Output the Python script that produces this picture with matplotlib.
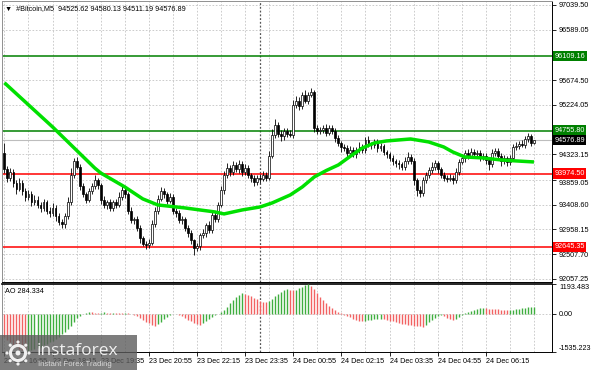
import numpy as np
import matplotlib.pyplot as plt
from matplotlib.patches import Rectangle, Circle
from matplotlib.transforms import blended_transform_factory

plt.rcParams['font.family'] = ['Liberation Sans', 'DejaVu Sans']

# M5 bars from 23 Dec 16:55 to 24 Dec 07:35, open of the first bar, then closes
first_open = 94350
closes = [94050, 93900, 94000, 93800, 93700, 93800, 93650, 93550, 93600, 93450,
          93500, 93400, 93350, 93450, 93300, 93250, 93350, 93200, 93100, 93050,
          93200, 93450, 93950, 94200, 94100, 93750, 93600, 93500, 93650, 93750,
          93850, 93760, 93500, 93400, 93450, 93350, 93450, 93400, 93550, 93680,
          93600, 93300, 93130, 93150, 92990, 92800, 92700, 92680, 92720, 93050,
          93300, 93520, 93650, 93600, 93480, 93550, 93300, 93250, 93130, 93150,
          92990, 92900, 92760, 92620, 92650, 92850, 92900, 93040, 92950, 93220,
          93150, 93400, 93670, 93950, 94070, 94000, 94130, 94050, 94150, 94000,
          94080, 93950, 93890, 93820, 93900, 93870, 93950, 93900, 94300, 94680,
          94850, 94700, 94650, 94750, 94700, 94680, 95220, 95300, 95200, 95400,
          95300, 95400, 95450, 94800, 94750, 94770, 94800, 94720, 94800, 94750,
          94620, 94530, 94450, 94440, 94350, 94400, 94330, 94400, 94460, 94400,
          94580, 94500, 94490, 94550, 94440, 94470, 94360, 94330, 94260, 94200,
          94160, 94150, 94100, 94200, 94270, 94200, 93850, 93680, 93620, 93850,
          93950, 94030, 94100, 94160, 94050, 93950, 93900, 93880, 93900, 93850,
          94000, 94180, 94250, 94350, 94300, 94370, 94330, 94350, 94280, 94300,
          94220, 94150, 94350, 94380, 94300, 94200, 94250, 94180, 94250, 94450,
          94480, 94520, 94500, 94600, 94650, 94525.62, 94576.89]

up_wick = [180, 60, 80, 50, 60, 90, 50, 60, 70, 50,
           80, 60, 50, 70, 40, 60, 80, 50, 60, 40,
           50, 100, 120, 60, 80, 50, 60, 40, 70, 60,
           90, 50, 40, 60, 50, 70, 40, 60, 80, 70,
           50, 40, 60, 40, 50, 40, 30, 50, 60, 80,
           60, 70, 80, 60, 40, 70, 50, 40, 60, 50,
           40, 50, 40, 30, 60, 50, 60, 40, 80, 60,
           50, 60, 80, 70, 90, 60, 80, 60, 70, 60,
           60, 50, 40, 60, 50, 60, 70, 60, 80, 100,
           120, 60, 70, 60, 50, 60, 90, 80, 70, 60,
           100, 60, 80, 50, 60, 50, 60, 80, 60, 50,
           60, 50, 40, 60, 50, 70, 60, 50, 80, 60,
           60, 70, 50, 60, 50, 60, 40, 50, 40, 50,
           40, 60, 40, 70, 90, 60, 50, 40, 60, 70,
           60, 70, 80, 60, 50, 40, 50, 40, 60, 50,
           70, 60, 80, 60, 70, 60, 50, 60, 50, 40,
           50, 60, 70, 60, 50, 40, 60, 50, 60, 70,
           60, 50, 60, 50, 60, 40, 3.24]

down_wick = [60, 80, 60, 70, 90, 50, 60, 80, 50, 70,
             50, 60, 80, 50, 70, 60, 50, 80, 60, 70,
             60, 50, 40, 60, 50, 80, 60, 70, 50, 40,
             60, 70, 80, 50, 70, 60, 50, 60, 40, 60,
             70, 60, 50, 70, 60, 80, 50, 70, 60, 40,
             50, 60, 40, 70, 60, 50, 70, 60, 50, 70,
             60, 80, 70, 130, 60, 70, 50, 80, 60, 50,
             60, 50, 40, 60, 50, 70, 60, 50, 60, 70,
             50, 60, 70, 80, 50, 60, 40, 60, 50, 40,
             60, 70, 80, 60, 70, 50, 60, 50, 70, 60,
             50, 60, 40, 70, 60, 50, 60, 70, 50, 60,
             70, 60, 80, 60, 100, 50, 60, 70, 50, 60,
             60, 50, 70, 60, 80, 60, 50, 70, 60, 70,
             60, 100, 70, 60, 50, 60, 80, 120, 70, 60,
             50, 60, 50, 70, 60, 50, 70, 60, 50, 70,
             50, 60, 40, 60, 70, 50, 60, 70, 80, 60,
             70, 120, 50, 60, 70, 80, 60, 70, 50, 40,
             50, 60, 40, 60, 50, 50, 14.43]

ao = [-950, -1050, -1150, -1250, -1330, -1400, -1470, -1520,
      -1500, -1460, -1420, -1380, -1330, -1270, -1210, -1150, -1080, -1000,
      -920, -830, -740, -620, -480, -330, -180,
      -80, 0, 40, 60, 50, 30, 20, 40, 50, 30, 20, 35, 25, 15, 10, 20, 10, 0,
      -50, -110, -180, -250, -320, -390, -450, -510,
      -430, -330, -220, -120,
      -60, -30, -20, -40,
      -100, -170, -240, -310, -370, -420, -440,
      -380, -300, -220, -140, -70, -10, 60,
      170, 290, 420, 550, 670, 770, 830,
      810, 760, 700, 640, 580, 530, 490, 470,
      520, 600, 700, 800, 880, 950, 990,
      970, 940, 960, 1030, 1090, 1150, 1193,
      1120, 980, 820, 680, 540, 420, 320, 230, 150, 80, 10,
      -50, -100, -150, -200, -240, -280, -300,
      -280, -260, -240, -220, -210, -200,
      -220, -250, -280, -310, -340, -370, -400, -420, -440, -460, -480, -500, -510, -520,
      -440, -350, -260, -180, -110, -60,
      -110, -170, -220, -250,
      -200, -130, -60, 10, 70, 120,
      160, 190, 220, 240,
      220, 210, 200, 190, 180, 170, 160, 140,
      150, 170, 190, 210, 230, 250, 260, 275, 284.334]

# moving average read at some bars
ma_bar = [0, 16, 30, 32, 40, 46, 51, 60, 65, 70, 73, 79, 85, 89, 95, 99, 103,
          107, 111, 115, 119, 123, 127, 135, 141, 146, 149, 153, 159, 165, 170, 176]
ma_val = [95625, 94822, 94076, 93985, 93731, 93513, 93403, 93349, 93312, 93276,
          93240, 93312, 93367, 93440, 93585, 93730, 93913, 94030, 94131, 94290,
          94440, 94531, 94567, 94603, 94549, 94458, 94367, 94276, 94258, 94222,
          94204, 94185]

price_ticks = [97039.50, 96589.05, 95674.50, 95224.05, 94323.15, 93859.05,
               93408.60, 92958.15, 92507.70, 92057.25]
green_levels = [96109.16, 94755.80]
red_levels = [93974.50, 92645.35]
bid = 94576.89
ao_ticks = [-1535.223, 0.0, 1193.483]

label_bars = [0, 16, 32, 48, 64, 80, 96, 112, 128, 144, 160]
time_labels = ['23 Dec 16:55', '23 Dec 18:15', '23 Dec 19:35', '23 Dec 20:55',
               '23 Dec 22:15', '23 Dec 23:35', '24 Dec 00:55', '24 Dec 02:15',
               '24 Dec 03:35', '24 Dec 04:55', '24 Dec 06:15']
day_break = 85

fs = 5.2
fig = plt.figure(figsize=(5.91, 3.70), dpi=100)
ax = fig.add_axes([2/591, 1 - 282/370, 550/591, 281/370])
ax2 = fig.add_axes([2/591, 1 - 352/370, 550/591, 68/370], sharex=ax)

c = np.array(closes, dtype=float)
o = np.concatenate([[first_open], c[:-1]])
x = np.arange(len(c))
hi = np.maximum(o, c) + np.array(up_wick)
lo = np.minimum(o, c) - np.array(down_wick)
bull = c >= o

grid_kw = dict(color='#c4c4c4', lw=0.6, ls=(0, (2, 2)), zorder=1)
for a in (ax, ax2):
    for g in range(0, 184, 8):
        a.axvline(g, **grid_kw)
    a.axvline(day_break, color='#555555', lw=0.9, ls=(0, (1.5, 1.5)), zorder=1)
for p in price_ticks:
    ax.axhline(p, **grid_kw)

ax.axhline(bid, color='#bdbdbd', lw=0.8, zorder=2)
for lv in green_levels:
    ax.axhline(lv, color='#008000', lw=1.1, zorder=2)
for lv in red_levels:
    ax.axhline(lv, color='#ff0000', lw=1.1, zorder=2)

ax.vlines(x, lo, hi, color='black', lw=0.6, zorder=3)
ax.bar(x[bull], (c - o)[bull], bottom=o[bull], width=0.62, color='white',
       edgecolor='black', lw=0.5, zorder=4)
ax.bar(x[~bull], (o - c)[~bull], bottom=c[~bull], width=0.62, color='black',
       edgecolor='black', lw=0.5, zorder=4)
ax.plot(ma_bar, ma_val, color='#00e000', lw=2.5, solid_capstyle='butt', zorder=5)

ax.set_xlim(-0.8, 182)
ax.set_ylim(92002, 97112)
ax.yaxis.tick_right()
ax.set_yticks(price_ticks)
ax.set_yticklabels(['%.2f' % p for p in price_ticks], fontsize=fs)
ax.tick_params(axis='y', length=3, width=0.6, pad=2)
ax.tick_params(axis='x', bottom=False, labelbottom=False)
# label just under the 93974.50 box is pushed down a little, as in the terminal
ax.get_yticklabels()[price_ticks.index(93859.05)].set_va('top')

tr = blended_transform_factory(ax.transAxes, ax.transData)
def level_label(val, bg):
    ax.text(1.004, val, '%.2f' % val, transform=tr, fontsize=fs, color='white',
            ha='left', va='center', clip_on=False, zorder=10,
            bbox=dict(boxstyle='square,pad=0.22', fc=bg, ec='none'))
for lv in green_levels:
    level_label(lv, '#008000')
for lv in red_levels:
    level_label(lv, '#ff0000')
level_label(bid, 'black')

ax.text(0.006, 0.985, '\u25bc  #Bitcoin,M5  %.2f %.2f %.2f %.2f' % (o[-1], hi[-1], lo[-1], c[-1]),
        transform=ax.transAxes, fontsize=fs, ha='left', va='top',
        family=['Liberation Sans', 'DejaVu Sans'])

# AO panel
ao_arr = np.array(ao, dtype=float)
up = np.concatenate([[False], ao_arr[1:] > ao_arr[:-1]])
cols = np.where(up, '#3fae3f', '#f26262')
ax2.vlines(x, 0, ao_arr, colors=cols, lw=1.0, zorder=3)
ax2.axhline(0, **grid_kw)
ax2.set_ylim(ao_ticks[0], ao_ticks[-1])
ax2.yaxis.tick_right()
ax2.set_yticks(ao_ticks)
ax2.set_yticklabels(['%.3f' % ao_ticks[0], '0.00', '%.3f' % ao_ticks[2]], fontsize=fs)
ylbls = ax2.get_yticklabels()
ylbls[0].set_va('bottom')
ylbls[2].set_va('top')
ax2.tick_params(axis='y', length=3, width=0.6, pad=2)
ax2.set_xticks(label_bars)
ax2.set_xticklabels(time_labels, fontsize=fs, ha='left')
ax2.tick_params(axis='x', length=3, width=0.6, pad=1.5)
ax2.text(0.006, 0.94, 'AO 284.334', transform=ax2.transAxes, fontsize=fs,
         ha='left', va='top')

for a in (ax, ax2):
    for s in a.spines.values():
        s.set_linewidth(0.7)
    a.spines['left'].set_color('#909090')
    a.spines['top'].set_color('#909090')
ax2.spines['top'].set_color('black')
ax2.spines['top'].set_linewidth(1.2)

# watermark
fig.add_artist(Rectangle((0, 0), 137/591, 35/370, transform=fig.transFigure,
                         fc='#5c5c5c', ec='none', alpha=0.8, zorder=20))
fig.text(37/591, 15/370, 'instaforex', fontsize=12.5, color='#f0f0f0',
         family='Open Sans', ha='left', va='baseline', zorder=21)
fig.text(38/591, 3.5/370, 'Instant Forex Trading', fontsize=5.6, color='#d8d8d8',
         ha='left', va='baseline', zorder=21)
logo = fig.add_axes([0, 0, 37/591, 35/370], zorder=22)
logo.set_xlim(0, 37)
logo.set_ylim(0, 35)
logo.axis('off')
logo.patch.set_alpha(0)
logo.add_patch(Circle((18, 17), 7.5, fill=False, ec='#f0f0f0', lw=2.2))
for ang in np.linspace(0, 2 * np.pi, 8, endpoint=False):
    logo.add_patch(Circle((18 + 11 * np.cos(ang), 17 + 11 * np.sin(ang)), 1.6,
                          fc='#f0f0f0', ec='none'))
logo.add_patch(Circle((18, 17), 2.5, fc='#f0f0f0', ec='none'))

fig.savefig('out.png', dpi=100)
